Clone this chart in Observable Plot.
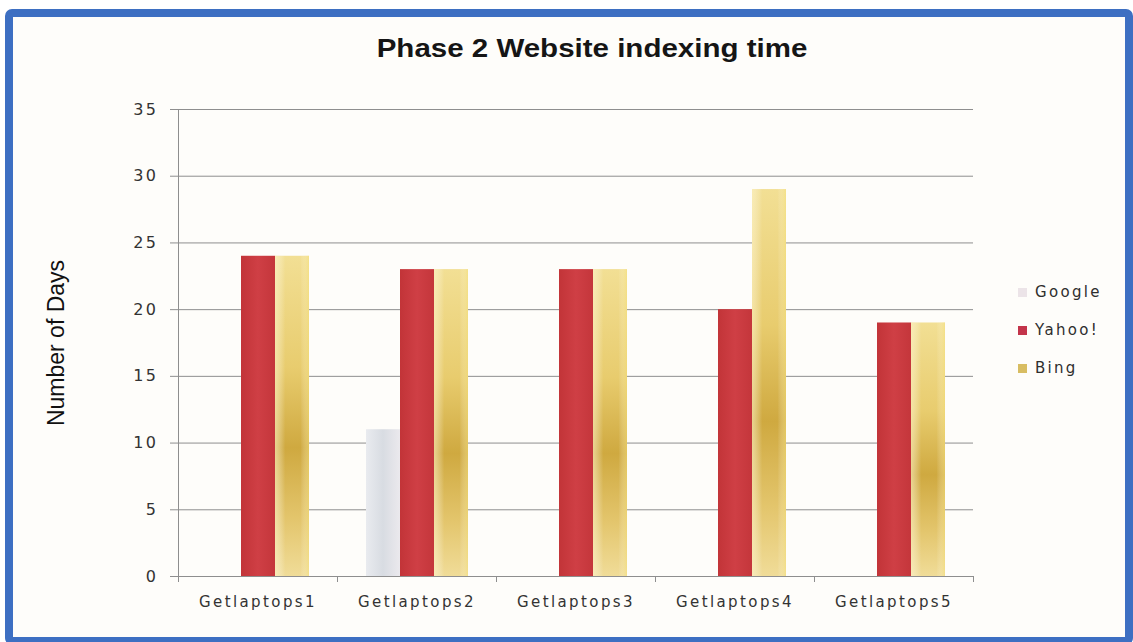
<!DOCTYPE html>
<html>
<head>
<meta charset="utf-8">
<script src="https://cdn.jsdelivr.net/npm/d3@7"></script>
<script src="https://cdn.jsdelivr.net/npm/@observablehq/plot@0.6"></script>
<style>
  html, body { margin: 0; padding: 0; background: #ffffff; }
  #wrap { position: relative; width: 1133px; height: 642px; overflow: hidden; background: #ffffff; }
  #frame { position: absolute; left: 5px; top: 9px; width: 1128px; height: 636px; box-sizing: border-box;
           border: 8px solid #3d6fc2; border-radius: 7px; background: #fefdfa; }
  #title { position: absolute; left: 0; top: 36px; width: 1184px; text-align: center;
           font: bold 25px "Liberation Sans", Arial, sans-serif; line-height: 25px; color: #151515;
           transform: scaleX(1.18); }
  #chart { position: absolute; left: 0; top: 0; }
  #legend { position: absolute; left: 1018px; top: 273px; font: 15px "DejaVu Sans", sans-serif; color: #2e2e2e; letter-spacing: 2.3px; }
  #legend .item { display: flex; align-items: center; height: 38px; }
  #legend .sw { width: 9px; height: 9px; margin-right: 8px; }
  g[aria-label="fx-axis tick label"] text { letter-spacing: 2.4px; }
  g[aria-label="y-axis tick label"] text { letter-spacing: 2.5px; }
</style>
</head>
<body>
<div id="wrap">
  <div id="frame"></div>
  <div id="title"></div>
  <div id="chart"></div>
  <div id="legend"></div>
</div>
<script>
// ---- data ----
const titleText = "Phase 2 Website indexing time";
const yLabel = "Number of Days";
const categories = ["Getlaptops1", "Getlaptops2", "Getlaptops3", "Getlaptops4", "Getlaptops5"];
const series = ["Google", "Yahoo!", "Bing"];
const googleValues = [0, 11, 0, 0, 0];
const yahooValues = [24, 23, 23, 20, 19];
const bingValues = [24, 23, 23, 29, 19];
const yTicks = [0, 5, 10, 15, 20, 25, 30, 35];

// ---- build table ----
const valuesBySeries = {"Google": googleValues, "Yahoo!": yahooValues, "Bing": bingValues};
const rows = [];
series.forEach(s => categories.forEach((c, i) => rows.push({category: c, series: s, value: valuesBySeries[s][i]})));

const fills = {"Google": "url(#gradGoogle)", "Yahoo!": "url(#gradYahoo)", "Bing": "url(#gradBing)"};
const swatches = {"Google": "#ece4e8", "Yahoo!": "#c3344a", "Bing": "#d8bd62"};

document.getElementById("title").textContent = titleText;

const plot = Plot.plot({
  width: 1133,
  height: 642,
  marginLeft: 176,
  marginRight: 158,
  marginTop: 109,
  marginBottom: 66,
  style: {background: "transparent", fontFamily: "DejaVu Sans, sans-serif", fontSize: "15px"},
  fx: {domain: categories, padding: 0, label: null},
  x: {domain: series, paddingInner: 0, paddingOuter: 0.786, axis: null},
  y: {domain: [0, 35], label: null},
  marks: [
    Plot.gridY(yTicks, {stroke: "#8e8e8e", strokeOpacity: 1}),
    ...series.map(s => Plot.barY(rows.filter(d => d.series === s && d.value > 0),
      {fx: "category", x: "series", y: "value", fill: fills[s]})),
    Plot.barY(rows.filter(d => d.series === "Bing"),
      {fx: "category", x: "series", y: "value", fill: "url(#gradBingH)"}),
    Plot.ruleY([0], {stroke: "#8e8e8e"}),
    Plot.axisY(yTicks, {tickSize: 8, tickPadding: 12, fontSize: 16, stroke: "#8e8e8e", fill: "#333", label: null}),
    Plot.axisY({ticks: [], label: yLabel, labelAnchor: "center", labelArrow: false, labelOffset: 131,
      fontSize: 23, fontFamily: "Liberation Sans, Arial, sans-serif", fill: "#111"}),
    Plot.axisFx({anchor: "bottom", tickSize: 0, tickPadding: 20, fontSize: 15, fill: "#333", label: null})
  ]
});
document.getElementById("chart").appendChild(plot);

// gradients
const svg = d3.select(plot);
const defs = svg.insert("defs", ":first-child");
function grad(id, stops, horizontal) {
  const g = defs.append("linearGradient").attr("id", id)
    .attr("x1", 0).attr("y1", 0).attr("x2", horizontal ? 1 : 0).attr("y2", horizontal ? 0 : 1);
  stops.forEach(([o, c, op]) => g.append("stop").attr("offset", o).attr("stop-color", c).attr("stop-opacity", op ?? 1));
}
grad("gradYahoo", [[0, "#c23438"], [0.5, "#cf3f45"], [1, "#c4363b"]], true);
grad("gradBing", [[0, "#f2df94"], [0.35, "#e8cc6e"], [0.6, "#cfa940"], [0.82, "#e3c56c"], [1, "#f0dc98"]], false);
grad("gradBingH", [[0, "#fff6d0", 0.55], [0.3, "#ffffff", 0], [0.75, "#ffffff", 0], [1, "#f6e27a", 0.5]], true);
grad("gradGoogle", [[0, "#e9ebef"], [0.5, "#d8dce2"], [1, "#ebe9ed"]], true);

// axis line and category boundary ticks using the plot's own scales
const fx = plot.scale("fx"), y = plot.scale("y");
const y0 = y.apply(0), yTop = y.apply(35);
const xs = categories.map(c => fx.apply(c));
xs.push(fx.apply(categories[categories.length - 1]) + fx.bandwidth);
const deco = svg.append("g").attr("stroke", "#8e8e8e");
deco.append("line").attr("x1", xs[0] + 0.5).attr("x2", xs[0] + 0.5).attr("y1", yTop).attr("y2", y0 + 6);
xs.slice(1).forEach(x => deco.append("line").attr("x1", x + 0.5).attr("x2", x + 0.5).attr("y1", y0).attr("y2", y0 + 6));

// legend
const legend = d3.select("#legend");
series.forEach(s => {
  const it = legend.append("div").attr("class", "item");
  it.append("div").attr("class", "sw").style("background", swatches[s]);
  it.append("span").text(s);
});
</script>
</body>
</html>
